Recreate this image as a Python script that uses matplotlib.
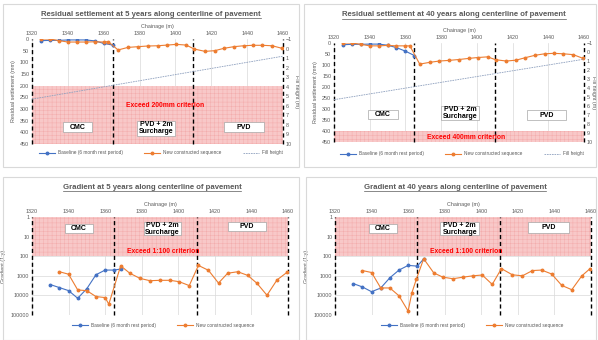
import matplotlib
matplotlib.use("Agg")
import matplotlib.pyplot as plt
from matplotlib.patches import Rectangle
from matplotlib.lines import Line2D

plt.rcParams['font.family'] = ['Liberation Sans', 'DejaVu Sans']
plt.rcParams['hatch.linewidth'] = 0.3

# ---- data ----
chain_base = [1325, 1330, 1335, 1340, 1345, 1350, 1355, 1360, 1365]
chain_new = [1325, 1330, 1335, 1340, 1345, 1350, 1355, 1360, 1362.5,
             1368, 1373.5, 1379, 1384.5, 1390, 1395.5, 1400.5, 1406,
             1410.5, 1416.5, 1422, 1427, 1432.5, 1438, 1443, 1448.5, 1454, 1459.5]

base_5y = [7, 6, 6, 4, 4, 4, 8, 19, 26]
new_5y = [0, 0, 7, 13, 13, 13, 12, 13, 11,
          47, 36, 33, 30, 29, 26, 23, 26,
          43, 53, 50, 40, 33, 29, 27, 27, 29, 40]

base_40y = [8, 6, 6, 5, 5, 10, 21, 37, 57]
new_40y = [0, 0, 6, 13, 13, 11, 13, 13, 13,
           96, 88, 82, 79, 75, 70, 66, 63,
           76, 82, 78, 67, 56, 49, 47, 49, 53, 70]

fill_chain = [1320, 1460]
fill_height = [5.3, 0.8]

grad_chain_base = [1330, 1335, 1340, 1345, 1350, 1355, 1360, 1365, 1368.5]
grad_base_5y = [2800, 4000, 5700, 14000, 4500, 880, 510, 510, 450]
grad_base_40y = [2500, 3700, 6500, 4200, 1260, 510, 295, 320, 138]

grad_chain_new_5y = [1335, 1340, 1345, 1350, 1355, 1360, 1362, 1368.5, 1373.5, 1379,
                     1384.5, 1390, 1395.5, 1400.5, 1406, 1411, 1416.5, 1422, 1427,
                     1432.5, 1438, 1443, 1448.5, 1454, 1459.5]
grad_new_5y = [620, 830, 5250, 5750, 11500, 12900, 28000, 310, 740, 1350,
               1780, 1700, 1700, 2000, 3160, 295, 525, 2350, 740,
               620, 955, 2400, 9800, 1620, 660]

grad_chain_new_40y = [1335, 1340, 1345, 1350, 1355, 1360, 1362, 1364.5, 1368.5, 1374,
                      1379, 1384.5, 1390, 1395.5, 1400.5, 1406, 1411, 1417, 1422.5,
                      1428, 1433, 1438.5, 1444, 1449.5, 1455, 1459.5]
grad_new_40y = [540, 680, 4170, 4170, 10500, 63000, 7600, 1480, 135, 710,
                1175, 1410, 1175, 1000, 910, 2750, 430, 890, 1000,
                540, 510, 810, 3090, 5130, 1000, 430]

zone_bounds = [1320, 1365, 1410, 1460]
zone_names = ['CMC', 'PVD + 2m\nSurcharge', 'PVD']
chain_ticks = list(range(1320, 1461, 20))

BLUE = '#4472C4'
ORANGE = '#ED7D31'
GREY_TXT = '#595959'
FILL_C = '#8EA0BE'
FS = 3.9

W, H = 598, 340
fig = plt.figure(figsize=(W / 100, H / 100), dpi=100)


def fx(px):
    return px / W


def fy(py):
    return 1 - py / H


def panel(x0, y0, x1, y1):
    fig.patches.append(Rectangle((fx(x0), fy(y1)), fx(x1 - x0), (y1 - y0) / H,
                                 transform=fig.transFigure, fill=False,
                                 edgecolor='#D9D9D9', lw=0.8))


def make_ax(x0, x1, y0, y1):
    ax = fig.add_axes([fx(x0), fy(y1), fx(x1 - x0), (y1 - y0) / H])
    for s in ax.spines.values():
        s.set_visible(False)
    ax.set_xlim(1320, 1460)
    ax.set_xticks(chain_ticks)
    ax.xaxis.tick_top()
    ax.xaxis.set_label_position('top')
    ax.set_xlabel('Chainage (m)', fontsize=FS, color=GREY_TXT, labelpad=2)
    ax.tick_params(length=0, labelsize=FS, labelcolor=GREY_TXT, pad=2)
    return ax


def zones(ax):
    for b in zone_bounds:
        ax.axvline(b, color='black', ls=(0, (3, 2)), lw=1.0, zorder=4, clip_on=False)


def boxes(ax, specs, fs=5.0):
    for (x0, x1, y0, y1), name in zip(specs, zone_names):
        ax.add_patch(Rectangle((x0, y0), x1 - x0, y1 - y0, facecolor='white',
                               edgecolor='#A6A6A6', lw=0.5, zorder=5))
        xc = (x0 + x1) / 2
        yc = (y0 * y1) ** 0.5 if ax.get_yscale() == 'log' else (y0 + y1) / 2
        ax.text(xc, yc, name, ha='center', va='center', fontsize=fs,
                fontweight='bold', zorder=6, linespacing=1.0)


def legend(x, y, with_fill):
    h = [Line2D([], [], color=BLUE, marker='o', ms=1.8, lw=0.8),
         Line2D([], [], color=ORANGE, marker='o', ms=1.8, lw=0.8)]
    lab = ['Baseline (6 month rest period)', 'New constructed sequence']
    if with_fill:
        h.append(Line2D([], [], color=FILL_C, ls=(0, (2, 1)), lw=0.6))
        lab.append('Fill height')
    fig.legend(h, lab, loc='center', bbox_to_anchor=(fx(x), fy(y)), ncol=len(h),
               frameon=False, fontsize=3.4, handlelength=3.4, columnspacing=4.5,
               handletextpad=0.6, labelcolor=GREY_TXT)


def settlement(x0, x1, y0, y1, base, new, zone_lo, crit_text, crit_y, box_specs, rpad):
    ax = make_ax(x0, x1, y0, y1)
    ax.set_ylim(450, 0)
    ax.set_yticks(range(0, 451, 50))
    ax.set_ylabel('Residual settlement (mm)', fontsize=FS, color=GREY_TXT, labelpad=3)
    ax.grid(axis='x', color='#D9D9D9', lw=0.5)
    ax.set_axisbelow(True)
    ax.axhspan(zone_lo, 450, facecolor='#F8C8C8', edgecolor='#F3A8A8', hatch='++++',
               lw=0, zorder=1)
    ax.text(1394, crit_y, crit_text, color='#FF0000', fontsize=4.9, fontweight='bold',
            ha='center', va='center', zorder=6)
    zones(ax)
    boxes(ax, box_specs)
    ax.plot(chain_base, base, color=BLUE, marker='o', ms=1.8, lw=0.8, zorder=7)
    ax.plot(chain_new, new, color=ORANGE, marker='o', ms=1.8, lw=0.8, zorder=8)
    ax2 = ax.twinx()
    for s in ax2.spines.values():
        s.set_visible(False)
    ax2.set_ylim(10, -1)
    ax2.set_yticks(range(-1, 11))
    ax2.tick_params(length=0, labelsize=FS, labelcolor=GREY_TXT, pad=2)
    ax2.set_ylabel('Fill height (m)', fontsize=FS, color=GREY_TXT, rotation=270,
                   labelpad=rpad)
    ax2.plot(fill_chain, fill_height, color=FILL_C, ls=(0, (2, 1)), lw=0.6)
    return ax


def gradient(x0, x1, y0, y1, base, cn, new, box_specs):
    ax = make_ax(x0, x1, y0, y1)
    ax.set_yscale('log')
    ax.set_ylim(100000, 1)
    ticks = [1, 10, 100, 1000, 10000, 100000]
    ax.set_yticks(ticks)
    ax.set_yticklabels([str(t) for t in ticks])
    ax.minorticks_off()
    ax.set_ylabel('Gradient (1:y)', fontsize=FS, color=GREY_TXT, labelpad=3)
    ax.grid(color='#D9D9D9', lw=0.5)
    ax.set_axisbelow(True)
    ax.axhspan(1, 100, facecolor='#F8C8C8', edgecolor='#F3A8A8', hatch='++++',
               lw=0, zorder=1)
    ax.text(1392, 55, 'Exceed 1:100 criterion', color='#FF0000', fontsize=4.9,
            fontweight='bold', ha='center', va='center', zorder=6)
    zones(ax)
    boxes(ax, box_specs)
    ax.plot(grad_chain_base, base, color=BLUE, marker='o', ms=1.8, lw=0.8, zorder=7)
    ax.plot(cn, new, color=ORANGE, marker='o', ms=1.8, lw=0.8, zorder=8)
    return ax


# panels
panel(3, 4, 299, 167)
panel(304, 4, 596, 167)
panel(3, 177, 299, 340)
panel(306, 177, 596, 340)

settlement(32, 283, 39, 144, base_5y, new_5y, 200, 'Exceed 200mm criterion', 287,
           [(1337.5, 1353.5, 357, 400), (1378.5, 1400, 350, 415), (1427, 1449.5, 357, 400)],
           5)
settlement(334, 584, 43, 142, base_40y, new_40y, 400, 'Exceed 400mm criterion', 430,
           [(1339, 1356, 305, 346), (1380, 1401, 287, 350), (1428, 1450, 305, 350)],
           2)
gradient(32, 288, 217, 315, grad_base_5y, grad_chain_new_5y, grad_new_5y,
         [(1338, 1353.5, 2.2, 6.5), (1381, 1401.5, 1.8, 8.5), (1427, 1448, 1.7, 5.3)])
gradient(335, 591, 217, 315, grad_base_40y, grad_chain_new_40y, grad_new_40y,
         [(1338.5, 1354, 2.2, 6.5), (1377.5, 1399, 1.8, 8.5), (1425.5, 1448, 1.9, 6.5)])

titles = [(151, 14, 'Residual settlement at 5 years along centerline of pavement'),
          (454, 15, 'Residual settlement at 40 years along centerline of pavement'),
          (152, 187, 'Gradient at 5 years along centerline of pavement'),
          (455, 187, 'Gradient at 40 years along centerline of pavement')]
for x, y, s in titles:
    t = fig.text(fx(x), fy(y), s, ha='center', va='center', fontsize=5.6,
                 fontweight='bold', color=GREY_TXT)
    fig.canvas.draw()
    bb = t.get_window_extent()
    fig.add_artist(Line2D([bb.x0 / W, bb.x1 / W], [(bb.y0 - 0.5) / H] * 2,
                          transform=fig.transFigure, color=GREY_TXT, lw=0.5))

legend(161, 153, True)
legend(462, 154, True)
legend(163, 325, False)
legend(472, 325, False)

fig.savefig('out.png', dpi=100)
